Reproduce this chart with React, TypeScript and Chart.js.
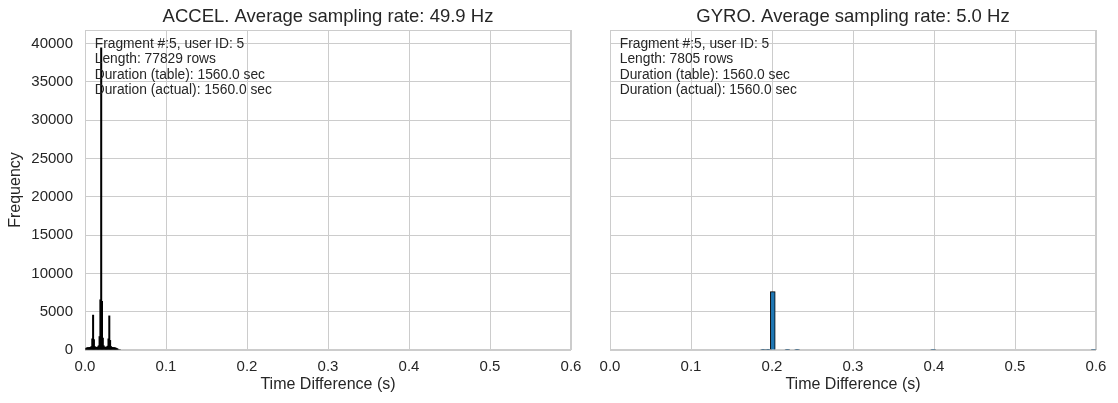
import React, { useEffect, useRef } from 'react';
import { Chart, registerables } from 'chart.js';

Chart.register(...registerables);

const FONT = '"Liberation Sans", Arial, Helvetica, sans-serif';
const TEXT = '#262626';
const GRID = '#cccccc';

// ACCEL: time differences between consecutive samples, 1 ms bins (bin centres in s)
const accelBins = [
  0.001, 0.002, 0.003, 0.004, 0.005, 0.006, 0.007, 0.008, 0.009, 0.010,
  0.011, 0.012, 0.013, 0.014, 0.015, 0.016, 0.017, 0.018, 0.019, 0.020,
  0.021, 0.022, 0.023, 0.024, 0.025, 0.026, 0.027, 0.028, 0.029, 0.030,
  0.031, 0.032, 0.033, 0.034, 0.035, 0.036, 0.037, 0.038, 0.039, 0.040,
  0.041, 0.042, 0.043,
];
const accelCounts = [
  200, 300, 350, 350, 350, 380, 400, 500, 1500, 4600,
  1400, 500, 400, 400, 400, 450, 600, 1800, 6600, 39500,
  6400, 1600, 600, 450, 400, 400, 450, 550, 1500, 4500,
  1300, 500, 400, 380, 350, 350, 320, 300, 250, 200,
  120, 60, 20,
];

// GYRO: non-empty 6 ms bins (bin centres in s)
const gyroBins = [0.189, 0.195, 0.201, 0.219, 0.231, 0.399, 0.597];
const gyroCounts = [40, 96, 7620, 15, 15, 10, 8];

const xTickValues = [0.0, 0.1, 0.2, 0.3, 0.4, 0.5, 0.6];
const yTickValues = [0, 5000, 10000, 15000, 20000, 25000, 30000, 35000, 40000];
const yMax = 41780;

const accelTitle = 'ACCEL. Average sampling rate: 49.9 Hz';
const gyroTitle = 'GYRO. Average sampling rate: 5.0 Hz';
const accelInfo = [
  'Fragment #:5, user ID: 5',
  'Length: 77829 rows',
  'Duration (table): 1560.0 sec',
  'Duration (actual): 1560.0 sec',
];
const gyroInfo = [
  'Fragment #:5, user ID: 5',
  'Length: 7805 rows',
  'Duration (table): 1560.0 sec',
  'Duration (actual): 1560.0 sec',
];
const xLabel = 'Time Difference (s)';
const yLabel = 'Frequency';

type PanelOpts = {
  bins: number[];
  counts: number[];
  fill: string;
  borderWidth: number;
  barPercentage: number;
  title: string;
  info: string[];
  showYTicks: boolean;
  yAxisWidth: number;
  padLeft: number;
  padRight: number;
};

function decorPlugin(o: PanelOpts) {
  return {
    id: 'panelDecor',
    beforeDatasetsDraw(chart: any) {
      const { ctx, chartArea: a } = chart;
      ctx.save();
      ctx.strokeStyle = GRID;
      ctx.lineWidth = 1;
      ctx.strokeRect(Math.round(a.left) + 0.5, Math.round(a.top) + 0.5,
        Math.round(a.right - a.left) - 1, Math.round(a.bottom - a.top) - 1);
      ctx.restore();
    },
    afterDraw(chart: any) {
      const { ctx, chartArea: a } = chart;
      const cx = (a.left + a.right) / 2;
      ctx.save();
      ctx.fillStyle = TEXT;
      ctx.textAlign = 'center';
      ctx.textBaseline = 'alphabetic';
      ctx.font = `18.5px ${FONT}`;
      ctx.fillText(o.title, cx, 21.5);

      ctx.font = `16px ${FONT}`;
      ctx.textBaseline = 'middle';
      ctx.fillText(xLabel, cx, 385);

      if (o.showYTicks) {
        ctx.save();
        ctx.translate(16, (a.top + a.bottom) / 2);
        ctx.rotate(-Math.PI / 2);
        ctx.fillText(yLabel, 0, 0);
        ctx.restore();
      }

      ctx.textAlign = 'left';
      ctx.textBaseline = 'alphabetic';
      ctx.font = `13.8px ${FONT}`;
      const x0 = a.left + 0.02 * (a.right - a.left);
      o.info.forEach((line, i) => ctx.fillText(line, x0, 48 + i * 15.4));
      ctx.restore();
    },
  };
}

function makeConfig(o: PanelOpts): any {
  return {
    type: 'bar',
    data: {
      datasets: [
        {
          data: o.bins.map((x, i) => ({ x, y: o.counts[i] })),
          backgroundColor: o.fill,
          borderColor: '#000000',
          borderWidth: o.borderWidth,
          borderSkipped: 'start',
          barPercentage: o.barPercentage,
          categoryPercentage: 1,
          grouped: false,
        },
      ],
    },
    options: {
      responsive: false,
      animation: false,
      devicePixelRatio: 1,
      layout: { padding: { left: o.padLeft, right: o.padRight, top: 30, bottom: 0 } },
      plugins: { legend: { display: false }, tooltip: { enabled: false }, title: { display: false } },
      scales: {
        x: {
          type: 'linear',
          min: 0,
          max: 0.6,
          offset: false,
          grid: { color: GRID, lineWidth: 1, drawTicks: false, offset: false },
          border: { display: false },
          afterBuildTicks: (s: any) => { s.ticks = xTickValues.map((v) => ({ value: v })); },
          afterFit: (s: any) => { s.height = 53; },
          ticks: {
            color: TEXT,
            padding: 8,
            maxRotation: 0,
            autoSkip: false,
            font: { family: FONT, size: 15 },
            callback: (v: any) => Number(v).toFixed(1),
          },
        },
        y: {
          type: 'linear',
          min: 0,
          max: yMax,
          grid: { color: GRID, lineWidth: 1, drawTicks: false },
          border: { display: false },
          afterBuildTicks: (s: any) => { s.ticks = yTickValues.map((v) => ({ value: v })); },
          afterFit: (s: any) => { s.width = o.yAxisWidth; },
          ticks: {
            display: o.showYTicks,
            color: TEXT,
            padding: 12,
            autoSkip: false,
            font: { family: FONT, size: 15 },
            callback: (v: any) => String(v),
          },
        },
      },
    },
    plugins: [decorPlugin(o)],
  };
}

export default function App() {
  const leftRef = useRef<HTMLCanvasElement>(null);
  const rightRef = useRef<HTMLCanvasElement>(null);

  useEffect(() => {
    const left = new Chart(leftRef.current!, makeConfig({
      bins: accelBins,
      counts: accelCounts,
      fill: '#000000',
      borderWidth: 0,
      barPercentage: 2.5,
      title: accelTitle,
      info: accelInfo,
      showYTicks: true,
      yAxisWidth: 85,
      padLeft: 0,
      padRight: 19,
    }));
    const right = new Chart(rightRef.current!, makeConfig({
      bins: gyroBins,
      counts: gyroCounts,
      fill: '#1f77b4',
      borderWidth: 1,
      barPercentage: 1,
      title: gyroTitle,
      info: gyroInfo,
      showYTicks: false,
      yAxisWidth: 0,
      padLeft: 20,
      padRight: 22,
    }));
    return () => {
      left.destroy();
      right.destroy();
    };
  }, []);

  return (
    <div style={{ position: 'absolute', left: 0, top: 0, width: 1118, height: 403, background: '#ffffff' }}>
      <canvas ref={leftRef} width={590} height={403}
        style={{ position: 'absolute', left: 0, top: 0, width: 590, height: 403 }} />
      <canvas ref={rightRef} width={528} height={403}
        style={{ position: 'absolute', left: 590, top: 0, width: 528, height: 403 }} />
    </div>
  );
}
